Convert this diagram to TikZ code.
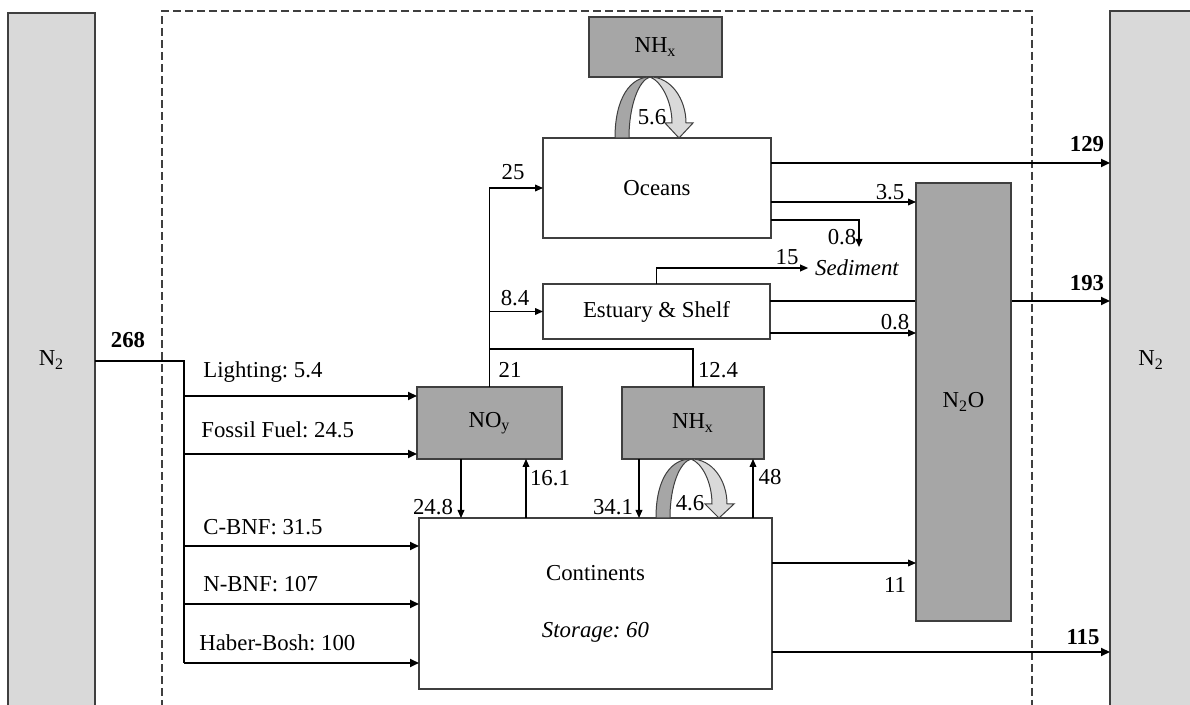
\documentclass[tikz,border=0pt]{standalone}
\usepackage{fontspec}
\setmainfont{Liberation Serif}
\usetikzlibrary{arrows.meta}
\definecolor{boxgray}{HTML}{A6A6A6}
\definecolor{bargray}{HTML}{D9D9D9}
\definecolor{edgegray}{HTML}{3F3F3F}
\newcommand{\lblfont}{\fontsize{11.4}{13.5}\selectfont}
\frenchspacing

\tikzset{
  box/.style={draw=edgegray, line width=0.6pt, inner sep=0pt, outer sep=0pt, font=\lblfont},
  graybox/.style={box, fill=boxgray},
  barbox/.style={box, fill=bargray},
  lbl/.style={font=\lblfont, inner sep=1pt},
  boldlbl/.style={font=\lblfont\bfseries, inner sep=1pt},
  thinflow/.style={line width=0.6pt, -{Triangle[length=4pt,width=3.4pt]}},
  thickflow/.style={line width=1.1pt, -{Triangle[length=4.5pt,width=4pt]}},
  loopdark/.style={fill=boxgray, draw=edgegray, line width=0.5pt},
  looplight/.style={fill=bargray, draw=edgegray, line width=0.5pt}
}

\begin{document}
\begin{tikzpicture}[x=0.5pt, y=-0.5pt]
\path[use as bounding box, fill=white] (0,0) rectangle (1190,705);

%%% Reservoirs of N2 on both sides
\node[barbox, minimum width=43.5pt, minimum height=347pt] (lbar) at (51.5,360) {N\textsubscript{2}};
\node[barbox, minimum width=41pt, minimum height=349pt] (rbar) at (1151,360) {N\textsubscript{2}};

% System boundary
\draw[edgegray, line width=0.6pt, dash pattern=on 4pt off 2pt]
  (162,720) -- (162,11) -- (1032,11) -- (1032,720);

%%% Boxes
\node[graybox, minimum width=66.5pt, minimum height=30pt] (nhtop) at (655.5,47) {NH\textsubscript{x}};
\node[box, minimum width=114pt, minimum height=50pt] (oceans) at (657,188) {Oceans};
\node[box, minimum width=113.5pt, minimum height=27.5pt] (estuary) at (656.5,311.5) {Estuary \& Shelf};
\node[graybox, minimum width=72.5pt, minimum height=36pt] (noy) at (489.5,423) {NO\textsubscript{y}};
\node[graybox, minimum width=71pt, minimum height=36pt] (nhmid) at (693,423) {NH\textsubscript{x}};
\node[box, minimum width=176.5pt, minimum height=85.5pt, align=center] (cont) at (595.5,603.5)
  {Continents\\[15pt]\itshape Storage: 60};

%%% Inputs from the left
\coordinate (split) at (184,361);
\coordinate (splitend) at (184,663);
\draw[line width=1.1pt] (lbar.east |- split) -- (split) -- (splitend);
\node[boldlbl] (tot) at (128,340) {268};

\draw[thickflow] (split |- 0,396) -- (noy.west |- 0,396);
\draw[thickflow] (split |- 0,454) -- (noy.west |- 0,454);
\draw[thickflow] (split |- 0,546) -- (cont.west |- 0,546);
\draw[thickflow] (split |- 0,604) -- (cont.west |- 0,604);
\draw[thickflow] (splitend) -- (cont.west |- splitend);

\node[lbl, anchor=west] (light) at (201,372) {Lighting: 5.4};
\node[lbl, anchor=west] (fossil) at (199,430) {Fossil Fuel: 24.5};
\node[lbl, anchor=west] (cbnf) at (201,527) {C-BNF: 31.5};
\node[lbl, anchor=west] (nbnf) at (201,584) {N-BNF: 107};
\node[lbl, anchor=west] (haber) at (197,643) {Haber-Bosh: 100};

%%% Atmosphere to oceans and estuary
\draw[thinflow] (noy.north) |- (oceans.west);
\draw[thinflow] (noy.north |- estuary.west) -- (estuary.west);
\draw[line width=0.6pt] (nhmid.north) |- (noy.north |- 0,349);
\node[lbl] (v25) at (513,172) {25};
\node[lbl] (v84) at (515,298) {8.4};
\node[lbl] (v21) at (510,370) {21};
\node[lbl] (v124) at (718,370) {12.4};

%%% Exchange between atmosphere and continents
\draw[thinflow] (461,0 |- noy.south) -- (461,0 |- cont.north);
\draw[thinflow] (526,0 |- cont.north) -- (526,0 |- noy.south);
\draw[thinflow] (639,0 |- nhmid.south) -- (639,0 |- cont.north);
\draw[thinflow] (753,0 |- cont.north) -- (753,0 |- nhmid.south);
\node[lbl] (v248) at (433,507) {24.8};
\node[lbl] (v161) at (550,478) {16.1};
\node[lbl] (v341) at (613,507) {34.1};
\node[lbl] (v48) at (770,477) {48};

%%% Sediment
\node[font=\lblfont\itshape] (sediment) at (857,268) {Sediment};
\coordinate (sedtop) at (859,247);
\draw[thinflow] (estuary.north) |- (sediment.west);
\draw[thinflow] (oceans.east |- 0,220) -| (sedtop);
\node[lbl] (v15) at (787,257) {15};
\node[lbl] (v08a) at (842,237) {0.8};

%%% Outputs to the right
\draw[thickflow] (oceans.east |- 0,163) -- (rbar.west |- 0,163);
\draw[thickflow] (estuary.east |- 0,301) -- (rbar.west |- 0,301);
\draw[thickflow] (cont.east |- 0,652) -- (rbar.west |- 0,652);
\node[boldlbl] (v129) at (1087,144) {129};
\node[boldlbl] (v193) at (1087,283) {193};
\node[boldlbl] (v115) at (1083,637) {115};

% N2O box over the 193 line
\node[graybox, minimum width=47.5pt, minimum height=219pt] (n2o) at (963.5,402) {N\textsubscript{2}O};
\draw[thinflow] (oceans.east |- 0,202) -- (n2o.west |- 0,202);
\draw[thinflow] (estuary.east |- 0,333) -- (n2o.west |- 0,333);
\draw[thinflow] (cont.east |- 0,563) -- (n2o.west |- 0,563);
\node[lbl] (v35) at (890,192) {3.5};
\node[lbl] (v08b) at (895,322) {0.8};
\node[lbl] (v11) at (895,585) {11};

%%% Turning arrows for NHx recycling
% oceans <-> top NHx
\path[loopdark] (615,138) .. controls (615,97) and (631,77) .. (650,77)
  .. controls (639,80) and (629,105) .. (629,138) -- cycle;
\path[looplight] (650,77) .. controls (671,77) and (686,99) .. (686,123)
  -- (693,123) -- (679,138) -- (665,123) -- (672,123)
  .. controls (672,101) and (661,81) .. (650,77) -- cycle;
\node[lbl] (v56) at (652,117) {5.6};

% continents <-> middle NHx
\path[loopdark] (656,518) .. controls (656,477) and (672,459) .. (691,459)
  .. controls (680,462) and (670,485) .. (670,518) -- cycle;
\path[looplight] (691,459) .. controls (712,459) and (727,480) .. (727,504)
  -- (734,504) -- (719,518) -- (705,504) -- (712,504)
  .. controls (712,482) and (702,463) .. (691,459) -- cycle;
\node[lbl] (v46) at (690,503) {4.6};

\end{tikzpicture}
\end{document}
